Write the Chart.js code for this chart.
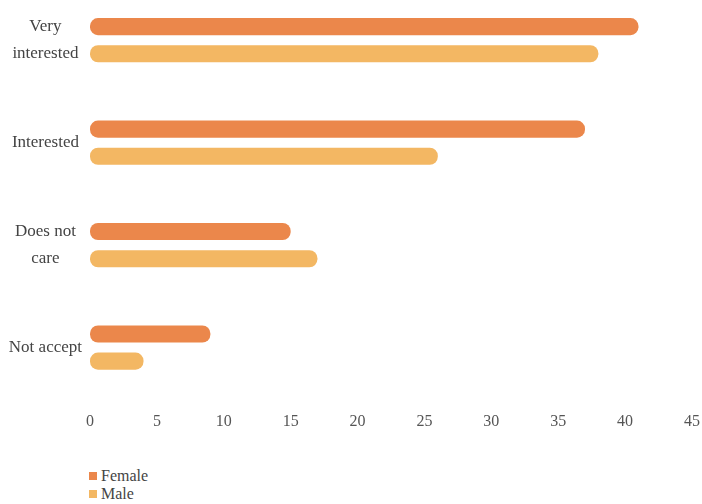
<!DOCTYPE html>
<html>
<head>
<meta charset="utf-8">
<script src="https://cdn.jsdelivr.net/npm/chart.js@4/dist/chart.umd.min.js"></script>
<style>
  html, body { margin: 0; padding: 0; background: #fff; overflow: hidden; }
  #wrap { position: relative; width: 702px; height: 504px; }
  #box { position: absolute; left: 0; top: -11px; width: 702px; height: 447px; }
  #legend { position: absolute; left: 89px; top: 467px; font-family: "Liberation Serif", serif; font-size: 16px; color: #444; line-height: 18px; }
  #legend span.sw { display: inline-block; width: 8px; height: 8px; margin-right: 4px; vertical-align: 1px; }
</style>
</head>
<body>
<div id="wrap">
  <div id="box"><canvas id="chart"></canvas></div>
  <div id="legend"></div>
</div>
<script>
// Categories and values
const categories = [["Very", "interested"], "Interested", ["Does not", "care"], "Not accept"];
const femaleValues = [41, 37, 15, 9];
const maleValues = [38, 26, 17, 4];
const xTicks = [0, 5, 10, 15, 20, 25, 30, 35, 40, 45];

const femaleColor = "#eb874b";
const maleColor = "#f3b763";

document.addEventListener("DOMContentLoaded", function () {
  const ctx = document.getElementById("chart").getContext("2d");
  const chart = new Chart(ctx, {
    type: "bar",
    data: {
      labels: categories,
      datasets: [
        {
          label: "Female",
          data: femaleValues,
          backgroundColor: femaleColor,
          borderRadius: 8,
          borderSkipped: false,
          categoryPercentage: 0.53,
          barPercentage: 0.63,
        },
        {
          label: "Male",
          data: maleValues,
          backgroundColor: maleColor,
          borderRadius: 8,
          borderSkipped: false,
          categoryPercentage: 0.53,
          barPercentage: 0.63,
        },
      ],
    },
    options: {
      indexAxis: "y",
      responsive: true,
      maintainAspectRatio: false,
      animation: false,
      layout: { padding: 0 },
      plugins: {
        legend: { display: false },
        tooltip: { enabled: false },
      },
      scales: {
        x: {
          min: 0,
          max: 45,
          grid: { display: false },
          border: { display: false },
          afterBuildTicks: (axis) => {
            axis.ticks = xTicks.map((v) => ({ value: v }));
          },
          afterFit: (axis) => {
            axis.paddingLeft = 0;
            axis.paddingRight = 10;
          },
          ticks: {
            color: "#555",
            padding: 5,
            font: { family: "Liberation Serif", size: 16, lineHeight: 1.2 },
          },
        },
        y: {
          grid: { display: false, drawTicks: false },
          border: { display: false },
          afterFit: (axis) => {
            axis.width = 90;
            axis.paddingTop = 0;
            axis.paddingBottom = 0;
          },
          ticks: {
            color: "#444",
            padding: 8,
            crossAlign: "center",
            font: { family: "Liberation Serif", size: 17, lineHeight: 1.6 },
          },
        },
      },
    },
  });

  // HTML legend from the datasets
  document.getElementById("legend").innerHTML = chart.data.datasets
    .map(
      (ds) =>
        `<div><span class="sw" style="background:${ds.backgroundColor}"></span>${ds.label}</div>`
    )
    .join("");
});
</script>
</body>
</html>
